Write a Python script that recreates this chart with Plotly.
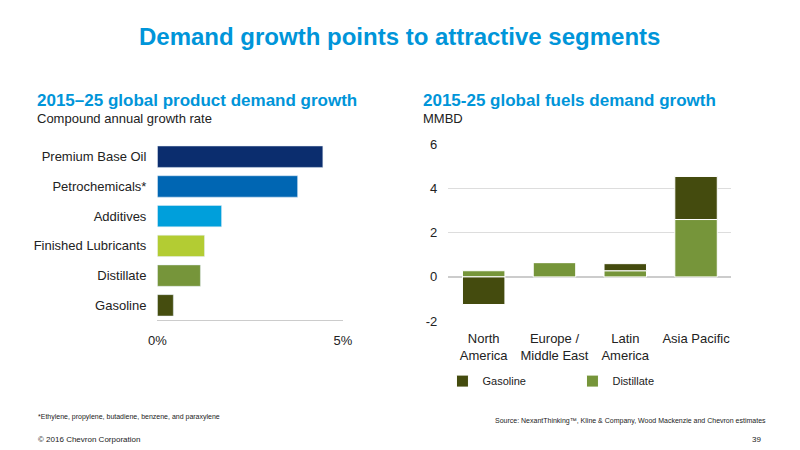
import plotly.graph_objects as go

products = ["Premium Base Oil", "Petrochemicals*", "Additives", "Finished Lubricants", "Distillate", "Gasoline"]
growth = [4.46, 3.78, 1.73, 1.27, 1.16, 0.43]
prod_colors = ["#0b2d6e", "#0066b3", "#009fdb", "#b3cc33", "#76953a", "#454d0f"]

regions = ["North<br>America", "Europe /<br>Middle East", "Latin<br>America", "Asia Pacific"]
distillate = [0.28, 0.65, 0.28, 2.6]
gasoline = [-1.25, 0.0, 0.32, 1.95]

font = "Liberation Sans"
fig = go.Figure()
fig.add_trace(go.Bar(y=products, x=growth, orientation="h", marker_color=prod_colors,
                     width=0.72, showlegend=False, xaxis="x", yaxis="y"))
fig.add_trace(go.Bar(x=regions, y=distillate, name="Distillate", marker_color="#76953a",
                     marker_line=dict(color="white", width=1), width=0.6, xaxis="x2", yaxis="y2"))
fig.add_trace(go.Bar(x=regions, y=gasoline, name="Gasoline", marker_color="#444b0e",
                     marker_line=dict(color="white", width=1), width=0.6, xaxis="x2", yaxis="y2"))

fig.update_layout(
    width=800, height=450, margin=dict(l=0, r=0, t=0, b=0),
    paper_bgcolor="white", plot_bgcolor="white", barmode="relative",
    font=dict(family=font, size=13, color="#222"),
    xaxis=dict(domain=[0.19, 0.4275], range=[0, 5], tickvals=[0, 5], ticktext=["0%", "5%"],
               showgrid=False, showline=True, linecolor="#ccc", zeroline=False, ticks="",
               ticklabelstandoff=8, tickfont=dict(size=13)),
    yaxis=dict(domain=[0.28, 0.69], anchor="x", autorange="reversed", showgrid=False,
               ticks="", ticklabelstandoff=10, tickfont=dict(size=13)),
    xaxis2=dict(domain=[0.5625, 0.925], anchor="y2", showgrid=False, showline=False, ticks="",
                ticklabelstandoff=8, tickfont=dict(size=13)),
    yaxis2=dict(domain=[0.278, 0.684], anchor="x2", range=[-2, 6], tickvals=[-2, 0, 2, 4, 6],
                ticktext=["-2", "0", "2", "4", "6"],
                showgrid=True, gridcolor="#ddd", zeroline=True, zerolinecolor="#ccc", zerolinewidth=2,
                ticks="", ticklabelstandoff=10, tickfont=dict(size=13)),
    legend=dict(orientation="h", x=0.555, y=0.14, xanchor="left", yanchor="middle",
                traceorder="reversed", font=dict(size=11), itemwidth=30, entrywidth=85),
)

def ann(text, x, y, size, color="#222", bold=False, xanchor="left"):
    fig.add_annotation(text=f"<b>{text}</b>" if bold else text, x=x, y=y, xref="paper", yref="paper",
                       xanchor=xanchor, yanchor="middle", showarrow=False,
                       font=dict(size=size, color=color, family=font))

ann("Demand growth points to attractive segments", 0.5, 1 - 31/450, 24, "#0095d9", True, "center")
ann("2015–25 global product demand growth", 0.033, 1 - 97/450, 17, "#0095d9", True)
ann("Compound annual growth rate", 0.033, 1 - 115/450, 13)
ann("2015-25 global fuels demand growth", 0.527, 1 - 97/450, 17, "#0095d9", True)
ann("MMBD", 0.527, 1 - 115/450, 13)
ann("*Ethylene, propylene, butadiene, benzene, and paraxylene", 0.035, 1 - 424/450, 7)
ann("Source: NexantThinking™, Kline & Company, Wood Mackenzie and Chevron estimates", 0.62, 1 - 428/450, 7)
ann("© 2016 Chevron Corporation", 0.035, 1 - 447/450, 8)
ann("39", 0.965, 1 - 447/450, 8, xanchor="right")
fig.write_html("out.html", config={"displayModeBar": False})

with open("out.html", encoding="utf-8") as f:
    html = f.read()
html = html.replace("<head>", "<head><style>html,body{margin:0;padding:0;overflow:hidden}</style>", 1)
with open("out.html", "w", encoding="utf-8") as f:
    f.write(html)
